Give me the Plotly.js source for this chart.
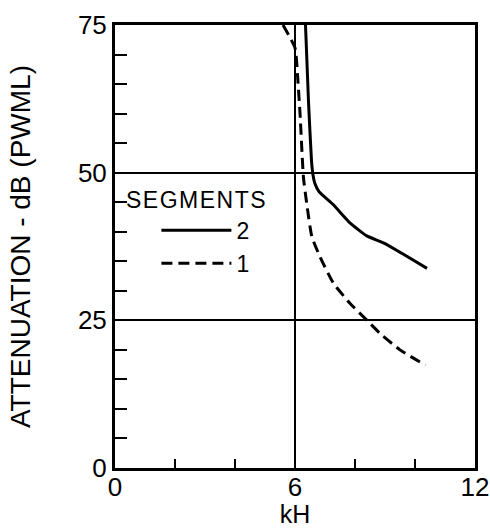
<!DOCTYPE html>
<html>
<head>
<meta charset="utf-8">
<script src="https://cdn.plot.ly/plotly-3.0.1.min.js"></script>
<style>
html, body { margin: 0; padding: 0; background: #fff; }
#chart { width: 490px; height: 528px; }
.annotation-text { letter-spacing: 1.5px; }
</style>
</head>
<body>
<div id="chart"></div>
<script>
// Segments = 2 (solid)
const seg2Freq = [6.35, 6.45, 6.55, 6.6, 6.66, 6.8, 7.27, 7.83, 8.39, 9.0, 10.4];
const seg2Atten = [75, 62, 52, 49.6, 48.2, 46.8, 44.6, 41.5, 39.3, 38.0, 33.8];
// Segments = 1 (dashed)
const seg1Freq = [5.6, 6.0, 6.1, 6.17, 6.28, 6.39, 6.56, 6.83, 7.28, 7.83, 8.44, 8.83, 9.5, 10.35];
const seg1Atten = [75, 71.1, 65.3, 59.8, 49.3, 44.8, 39.2, 35.8, 31.3, 27.9, 24.8, 22.8, 20.0, 17.4];

const xTickVals = [0, 6, 12];
const yTickVals = [0, 25, 50, 75];
const legendTitle = 'SEGMENTS';

const FONT = 'Liberation Sans, Arial, Helvetica, sans-serif';

const traces = [
  {
    x: seg2Freq, y: seg2Atten, name: '2', mode: 'lines',
    line: { color: '#000', width: 3, shape: 'spline', smoothing: 0.4 }
  },
  {
    x: seg1Freq, y: seg1Atten, name: '1', mode: 'lines',
    line: { color: '#000', width: 3, dash: '11px,6px', shape: 'spline', smoothing: 0.5 }
  }
];

const layout = {
  width: 490, height: 528,
  margin: { l: 115, r: 15, t: 25, b: 60 },
  paper_bgcolor: '#fff', plot_bgcolor: '#fff',
  font: { family: FONT, color: '#000' },
  showlegend: true,
  legend: {
    x: 0.115, y: 0.585, xanchor: 'left', yanchor: 'top',
    bgcolor: 'rgba(0,0,0,0)',
    font: { family: FONT, size: 23, color: '#000' },
    itemwidth: 70,
    tracegroupgap: 0
  },
  annotations: [{
    text: legendTitle, xref: 'paper', yref: 'paper',
    x: 0.025, y: (468 - 200) / 443, xanchor: 'left', yanchor: 'middle',
    showarrow: false, font: { family: FONT, size: 23, color: '#000' }
  }],
  xaxis: {
    range: [0, 12], tickvals: xTickVals, ticktext: xTickVals.map(String),
    ticks: 'inside', ticklen: 9, tickwidth: 2, tickcolor: '#000',
    minor: { dtick: 2, ticks: 'inside', ticklen: 9, tickwidth: 2, tickcolor: '#000', showgrid: false },
    showgrid: true, gridcolor: '#000', gridwidth: 2,
    showline: true, linecolor: '#000', linewidth: 3, mirror: true,
    zeroline: false,
    ticklabelstandoff: -6,
    tickfont: { family: FONT, size: 26, color: '#000' },
    title: { text: 'kH', font: { family: FONT, size: 25, color: '#000' }, standoff: 2 },
    fixedrange: true
  },
  yaxis: {
    range: [0, 75], tickvals: yTickVals, ticktext: yTickVals.map(String),
    ticks: 'inside', ticklen: 12, tickwidth: 2, tickcolor: '#000',
    minor: { dtick: 5, ticks: 'inside', ticklen: 12, tickwidth: 2, tickcolor: '#000', showgrid: false },
    showgrid: true, gridcolor: '#000', gridwidth: 2,
    showline: true, linecolor: '#000', linewidth: 3, mirror: true,
    zeroline: false,
    tickfont: { family: FONT, size: 26, color: '#000' },
    title: { text: 'ATTENUATION - dB (PWML)', font: { family: FONT, size: 28, color: '#000' }, standoff: 40 },
    fixedrange: true
  }
};

Plotly.newPlot('chart', traces, layout, { displayModeBar: false, staticPlot: true });
</script>
</body>
</html>
